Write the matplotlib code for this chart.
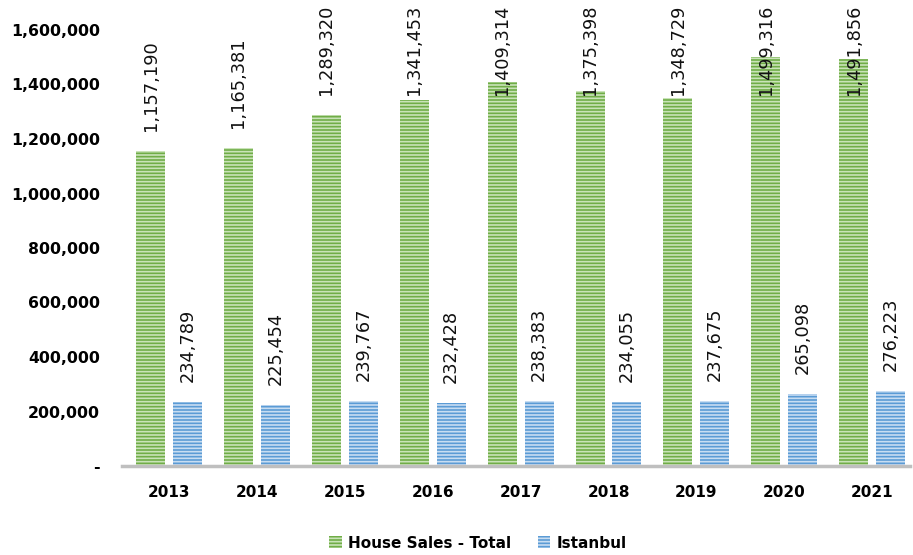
import matplotlib
matplotlib.use("Agg")
import matplotlib.pyplot as plt
import numpy as np
from matplotlib.patches import Patch

years = ["2013", "2014", "2015", "2016", "2017", "2018", "2019", "2020", "2021"]
total = [1157190, 1165381, 1289320, 1341453, 1409314, 1375398, 1348729, 1499316, 1491856]
istanbul = [234789, 225454, 239767, 232428, 238383, 234055, 237675, 265098, 276223]
yticks = [0, 200000, 400000, 600000, 800000, 1000000, 1200000, 1400000, 1600000]

plt.rcParams['font.family'] = ['DejaVu Sans']
plt.rcParams['hatch.linewidth'] = 1.2

W, H = 913, 555
ax_left, ax_right, ax_top, ax_bottom = 122, 910, 30, 466
fig = plt.figure(figsize=(W/100, H/100), dpi=100)
ax = fig.add_axes([ax_left/W, 1-ax_bottom/H, (ax_right-ax_left)/W, (ax_bottom-ax_top)/H])

ymax = 1600000
px_per_unit = (ax_bottom - ax_top) / ymax

x = np.arange(len(years))
w = 0.33
off = 0.21
green = "#70AD47"
green_l = "#C9E3B8"
blue = "#5B9BD5"
blue_l = "#C8DDF2"

ax.bar(x - off, total, w, color=green, edgecolor=green_l, linewidth=0, hatch='-----', zorder=2)
ax.bar(x + off, istanbul, w, color=blue, edgecolor=blue_l, linewidth=0, hatch='-----', zorder=2)

def fmt(v):
    return f"{v:,}"

gap = 20 / px_per_unit               # 20 px above the bar
cap = (ax_bottom - 95) / px_per_unit  # label must stay inside the figure

def label_pos(v):
    return min(v + gap, cap)

for xi, v in zip(x, total):
    ax.text(xi - off, label_pos(v), fmt(v), rotation=90, ha='center', va='bottom',
            fontsize=12.8, color='#111111', zorder=3, clip_on=False)
for xi, v in zip(x, istanbul):
    ax.text(xi + off, label_pos(v), fmt(v), rotation=90, ha='center', va='bottom',
            fontsize=12.8, color='#111111', zorder=3, clip_on=False)

ax.set_xlim(-0.535, 8.43)
ax.set_ylim(0, ymax)
ax.set_yticks(yticks)
ax.set_yticklabels(["-" if t == 0 else fmt(t) for t in yticks], fontsize=11.3, fontweight='bold')
ax.set_xticks(x)
ax.set_xticklabels(years, fontsize=11, fontweight='bold')
ax.tick_params(axis='x', length=0, pad=14)
ax.tick_params(axis='y', length=0, pad=16)
for s in ['top', 'right', 'left']:
    ax.spines[s].set_visible(False)
ax.spines['bottom'].set_color('#BFBFBF')
ax.spines['bottom'].set_linewidth(2.5)

handles = [Patch(facecolor=green, edgecolor=green_l, linewidth=0, hatch='-----', label='House Sales - Total'),
           Patch(facecolor=blue, edgecolor=blue_l, linewidth=0, hatch='-----', label='Istanbul')]
fig.legend(handles=handles, loc='center', bbox_to_anchor=(478/W, 1-543/H), ncol=2, frameon=False,
           prop={'size': 11, 'weight': 'bold'}, handlelength=0.8, handleheight=0.8,
           columnspacing=1.8, handletextpad=0.4)

fig.savefig("out.png", dpi=100)
